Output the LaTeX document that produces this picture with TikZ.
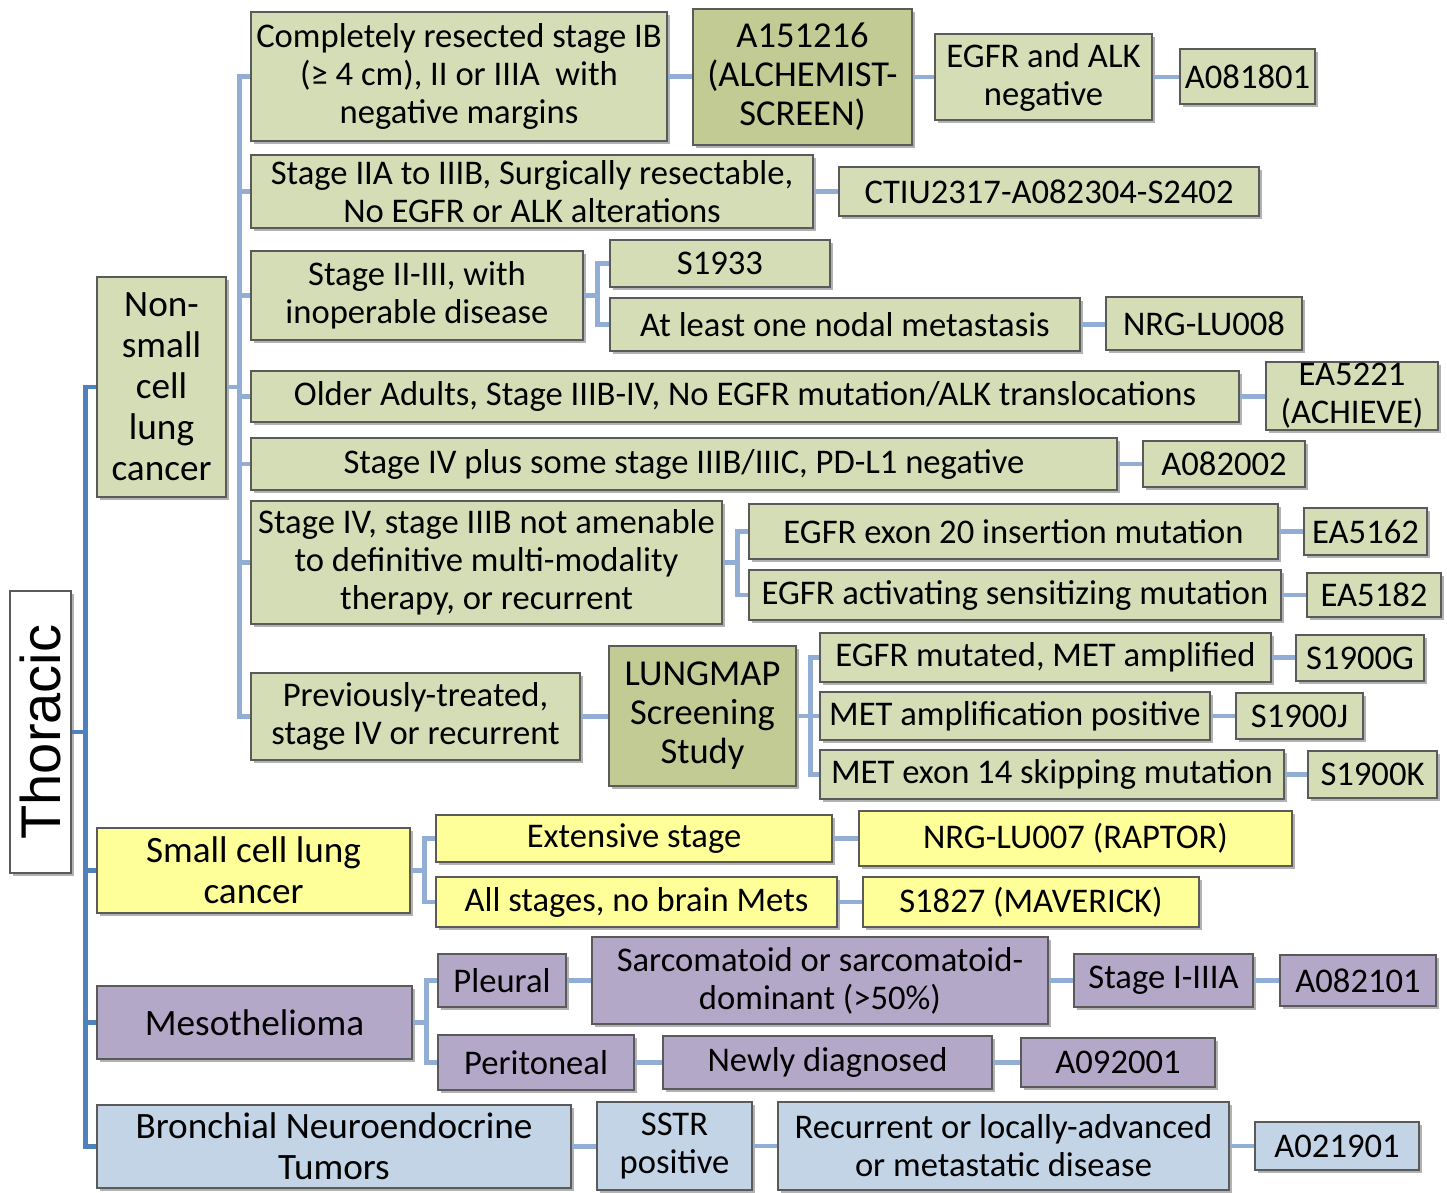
\documentclass[tikz,border=0pt]{standalone}
\usepackage{fontspec}
\setmainfont{Carlito}
\newfontfamily\arialf{Liberation Sans}
\usetikzlibrary{shadows}
\definecolor{lgreen}{HTML}{D4DDB5}
\definecolor{dgreen}{HTML}{C2CB93}
\definecolor{lyellow}{HTML}{FFFF99}
\definecolor{lpurple}{HTML}{B4A8C8}
\definecolor{lblue}{HTML}{C3D4E6}
\definecolor{bordc}{HTML}{5A5A5A}
\definecolor{connc}{HTML}{93AED5}
\definecolor{trunkc}{HTML}{4F81BD}
\newcommand{\mybox}[7]{\node[#1, minimum width={#5-#3}, minimum height={#6-#4}] (#2) at ({(#3+#5)/2},{(#4+#6)/2}) {#7};}
\tikzset{
  basebox/.style={draw=bordc, line width=1.3pt, inner sep=0pt, align=center,
    font=\fontsize{34.6}{38}\selectfont,
    drop shadow={shadow xshift=2.5pt, shadow yshift=-3pt, fill=black, opacity=0.3}},
  gbox/.style={basebox, fill=lgreen},
  dbox/.style={basebox, fill=dgreen, font=\fontsize{36.5}{39}\selectfont},
  ybox/.style={basebox, fill=lyellow},
  pbox/.style={basebox, fill=lpurple},
  bbox/.style={basebox, fill=lblue},
  catfont/.style={font=\fontsize{37.2}{41}\selectfont},
  conn/.style={draw=connc, line width=4.5pt},
  trunk/.style={draw=trunkc, line width=4.5pt},
}
\begin{document}
\begin{tikzpicture}[x=1pt,y=-1pt]
\useasboundingbox (0,0) rectangle (1447,1192);
% Thoracic
\node[basebox, fill=white, rotate=90, minimum width=282, minimum height=61,
  font=\arialf\fontsize{56}{60}\selectfont] (thor) at (40.5,732) {Thoracic};
% NSCLC
\mybox{gbox,catfont}{nsclc}{97}{277}{226}{497}{Non-\\small\\cell\\lung\\cancer}
\mybox{gbox}{b1}{251}{12}{667}{141}{Completely resected stage IB\\(≥ 4 cm), II or IIIA\ \ with\\negative margins}
\mybox{dbox}{a151}{693}{9}{912}{145}{A151216\\(ALCHEMIST-\\SCREEN)}
\mybox{gbox}{egfralk}{935}{34}{1152}{120}{EGFR and ALK\\negative}
\mybox{gbox}{a081801}{1180}{49}{1315}{104}{A081801}
\mybox{gbox}{b2}{251}{155}{813}{228}{Stage IIA to IIIB, Surgically resectable,\\No EGFR or ALK alterations}
\mybox{gbox}{ctiu}{839}{167}{1259}{216}{CTIU2317-A082304-S2402}
\mybox{gbox}{b3}{251}{251}{583}{340}{Stage II-III, with\\inoperable disease}
\mybox{gbox}{s1933}{610}{240}{830}{287}{S1933}
\mybox{gbox}{nodal}{610}{298}{1080}{351}{At least one nodal metastasis}
\mybox{gbox}{lu008}{1106}{297}{1302}{350}{NRG-LU008}
\mybox{gbox}{b4}{251}{371}{1239}{422}{Older Adults, Stage IIIB-IV, No EGFR mutation/ALK translocations}
\mybox{gbox}{ea5221}{1266}{362}{1438}{430}{EA5221\\(ACHIEVE)}
\mybox{gbox}{b5}{251}{438}{1117}{490}{Stage IV plus some stage IIIB/IIIC, PD-L1 negative}
\mybox{gbox}{a082002}{1143}{441}{1305}{487}{A082002}
\mybox{gbox}{b6}{251}{501}{722}{624}{Stage IV, stage IIIB not amenable\\to definitive multi-modality\\therapy, or recurrent}
\mybox{gbox}{ex20}{749}{504}{1278}{559}{EGFR exon 20 insertion mutation}
\mybox{gbox}{ea5162}{1304}{508}{1427}{555}{EA5162}
\mybox{gbox}{act}{749}{570}{1281}{620}{EGFR activating sensitizing mutation}
\mybox{gbox}{ea5182}{1307}{573}{1441}{617}{EA5182}
\mybox{gbox}{b7}{251}{673}{580}{760}{Previously-treated,\\stage IV or recurrent}
\mybox{dbox}{lungmap}{609}{646}{796}{786}{LUNGMAP\\Screening\\Study}
\mybox{gbox}{metegfr}{820}{633}{1271}{682}{EGFR mutated, MET amplified}
\mybox{gbox}{s1900g}{1296}{635}{1424}{681}{S1900G}
\mybox{gbox}{metamp}{820}{692}{1210}{740}{MET amplification positive}
\mybox{gbox}{s1900j}{1236}{693}{1363}{739}{S1900J}
\mybox{gbox}{met14}{820}{750}{1284}{799}{MET exon 14 skipping mutation}
\mybox{gbox}{s1900k}{1308}{751}{1437}{798}{S1900K}
% SCLC
\mybox{ybox,catfont}{sclc}{97}{828}{410}{913}{Small cell lung\\cancer}
\mybox{ybox}{ext}{436}{815}{832}{862}{Extensive stage}
\mybox{ybox}{lu007}{859}{811}{1292}{866}{NRG-LU007 (RAPTOR)}
\mybox{ybox}{allst}{436}{877}{837}{927}{All stages, no brain Mets}
\mybox{ybox}{s1827}{863}{877}{1199}{927}{S1827 (MAVERICK)}
% Meso
\mybox{pbox,catfont}{meso}{97}{986}{412}{1059}{Mesothelioma}
\mybox{pbox}{pleural}{438}{954}{566}{1007}{Pleural}
\mybox{pbox}{sarc}{592}{937}{1048}{1024}{Sarcomatoid or sarcomatoid-\\dominant (>50\%)}
\mybox{pbox}{st13a}{1074}{954}{1253}{1007}{Stage I-IIIA}
\mybox{pbox}{a082101}{1280}{955}{1436}{1006}{A082101}
\mybox{pbox}{perit}{438}{1035}{634}{1090}{Peritoneal}
\mybox{pbox}{newly}{663}{1036}{992}{1089}{Newly diagnosed}
\mybox{pbox}{a092001}{1021}{1038}{1215}{1087}{A092001}
% Bronchial
\mybox{bbox,catfont}{bron}{97}{1105}{571}{1188}{Bronchial Neuroendocrine\\Tumors}
\mybox{bbox}{sstr}{597}{1102}{752}{1190}{SSTR\\positive}
\mybox{bbox}{recur}{778}{1102}{1229}{1190}{Recurrent or locally-advanced\\or metastatic disease}
\mybox{bbox}{a021901}{1255}{1122}{1419}{1170}{A021901}
% fork coordinates
\path (thor.south) ++(14,0) coordinate (fT);
\path (nsclc.east) ++(13,0) coordinate (fN);
\path (b3.east) ++(14,0) coordinate (f3);
\path (b6.east) ++(15,0) coordinate (f6);
\path (lungmap.east) ++(14,0) coordinate (fL);
\path (sclc.east) ++(14,0) coordinate (fS);
\path (meso.east) ++(14,0) coordinate (fM);
% trunk
\draw[trunk] (thor.south) -- (fT);
\draw[trunk] (fT) |- (nsclc.west);
\draw[trunk] (fT) |- (sclc.west);
\draw[trunk] (fT) |- (meso.west);
\draw[trunk] (fT) |- (bron.west);
% NSCLC
\draw[conn] (nsclc.east) -- (fN);
\foreach \b in {b1,b2,b3,b4,b5,b6,b7} {\draw[conn] (fN) |- (\b.west);}
\draw[conn] (b1.east) -- (b1.east -| a151.west);
\draw[conn] (a151.east) -- (a151.east -| egfralk.west);
\draw[conn] (egfralk.east) -- (egfralk.east -| a081801.west);
\draw[conn] (b2.east) -- (b2.east -| ctiu.west);
\draw[conn] (b3.east) -- (f3);
\draw[conn] (f3) |- (s1933.west);
\draw[conn] (f3) |- (nodal.west);
\draw[conn] (nodal.east) -- (nodal.east -| lu008.west);
\draw[conn] (b4.east) -- (b4.east -| ea5221.west);
\draw[conn] (b5.east) -- (b5.east -| a082002.west);
\draw[conn] (b6.east) -- (f6);
\draw[conn] (f6) |- (ex20.west);
\draw[conn] (f6) |- (act.west);
\draw[conn] (ex20.east) -- (ex20.east -| ea5162.west);
\draw[conn] (act.east) -- (act.east -| ea5182.west);
\draw[conn] (b7.east) -- (b7.east -| lungmap.west);
\draw[conn] (lungmap.east) -- (fL);
\draw[conn] (fL) |- (metegfr.west);
\draw[conn] (fL) |- (metamp.west);
\draw[conn] (fL) |- (met14.west);
\draw[conn] (metegfr.east) -- (metegfr.east -| s1900g.west);
\draw[conn] (metamp.east) -- (metamp.east -| s1900j.west);
\draw[conn] (met14.east) -- (met14.east -| s1900k.west);
% SCLC
\draw[conn] (sclc.east) -- (fS);
\draw[conn] (fS) |- (ext.west);
\draw[conn] (fS) |- (allst.west);
\draw[conn] (ext.east) -- (ext.east -| lu007.west);
\draw[conn] (allst.east) -- (allst.east -| s1827.west);
% Meso
\draw[conn] (meso.east) -- (fM);
\draw[conn] (fM) |- (pleural.west);
\draw[conn] (fM) |- (perit.west);
\draw[conn] (pleural.east) -- (pleural.east -| sarc.west);
\draw[conn] (sarc.east) -- (sarc.east -| st13a.west);
\draw[conn] (st13a.east) -- (st13a.east -| a082101.west);
\draw[conn] (perit.east) -- (perit.east -| newly.west);
\draw[conn] (newly.east) -- (newly.east -| a092001.west);
% Bronchial
\draw[conn] (bron.east) -- (bron.east -| sstr.west);
\draw[conn] (sstr.east) -- (sstr.east -| recur.west);
\draw[conn] (recur.east) -- (recur.east -| a021901.west);
\end{tikzpicture}
\end{document}
